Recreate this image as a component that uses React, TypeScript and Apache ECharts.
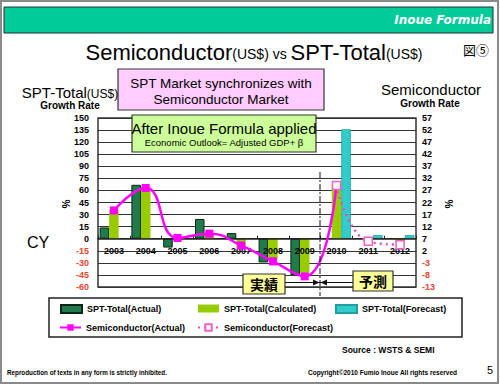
import React, { useEffect, useRef } from 'react';
import * as echarts from 'echarts';

const years = ['2003', '2004', '2005', '2006', '2007', '2008', '2009', '2010', '2011', '2012'];
const sptActual = [14, 67, -11, 24.5, 7, -29.5, -45, null, null, null];
const sptCalculated = [36, 65, -2, 7, -11, -26, -42.5, 67, -3, -6];
const sptForecast = [null, null, null, null, null, null, null, 136, 4.5, 4.5];
const semiActual = [18.7, 28, 7.3, 9.1, 4.2, -2.4, -8.6, 29, null, null];
const semiForecast = [null, null, null, null, null, null, null, 29, 5.9, 4.5];

const leftMin = -60;
const leftMax = 150;
const leftStep = 15;
const rightMin = -13;
const rightMax = 57;
const rightStep = 5;

const SANS = '"Liberation Sans", Arial, sans-serif';

const GRID_TOP = 118;
const GRID_H = 169;

export default function App() {
  const ref = useRef<HTMLDivElement>(null);
  useEffect(() => {
    if (!ref.current) return;
    const chart = echarts.init(ref.current, undefined, { renderer: 'svg' });
    const axisRich = {
      n: { color: '#000', fontWeight: 'bold', fontSize: 9, fontFamily: SANS },
      r: { color: '#e8452c', fontWeight: 'bold', fontSize: 9, fontFamily: SANS },
    };
    const lblFmt = (v: number) => (v < 0 ? `{r|${v}}` : `{n|${v}}`);
    const zeroOffset = -(GRID_H * (0 - leftMin)) / (leftMax - leftMin);
    const legendBase = {
      orient: 'horizontal',
      padding: 0,
      itemWidth: 21,
      itemHeight: 8,
      itemGap: 4,
      textStyle: { fontSize: 9, fontWeight: 'bold', color: '#000', fontFamily: SANS },
    };
    const option: any = {
      animation: false,
      backgroundColor: '#fff',
      grid: {
        left: 98,
        top: GRID_TOP,
        width: 318,
        height: GRID_H,
        show: true,
        borderColor: '#333',
        borderWidth: 1.5,
        backgroundColor: 'transparent',
      },
      legend: [
        { ...legendBase, left: 60, top: 304, data: [{ name: 'SPT-Total(Actual)', icon: 'rect' }] },
        { ...legendBase, left: 198, top: 304, data: [{ name: 'SPT-Total(Calculated)', icon: 'rect' }] },
        { ...legendBase, left: 335, top: 304, data: [{ name: 'SPT-Total(Forecast)', icon: 'rect' }] },
        { ...legendBase, left: 59, top: 323, data: ['Semiconductor(Actual)'] },
        { ...legendBase, left: 197, top: 323, data: ['Semiconductor(Forecast)'] },
      ],
      xAxis: {
        type: 'category',
        data: years,
        position: 'bottom',
        offset: zeroOffset,
        z: 3,
        axisLine: { onZero: false, lineStyle: { color: '#222', width: 1.5 } },
        axisTick: { show: true, inside: true, length: 3, lineStyle: { color: '#222' } },
        axisLabel: { margin: 8, fontSize: 9, fontWeight: 'bold', color: '#000', fontFamily: SANS, interval: 0 },
        splitLine: { show: false },
      },
      yAxis: [
        {
          type: 'value',
          min: leftMin,
          max: leftMax,
          interval: leftStep,
          axisLine: { show: false },
          axisTick: { show: false },
          axisLabel: { margin: 9, formatter: lblFmt, rich: axisRich },
          splitLine: { show: true, lineStyle: { color: '#333', width: 1 } },
        },
        {
          type: 'value',
          min: rightMin,
          max: rightMax,
          interval: rightStep,
          position: 'right',
          axisLine: { show: false },
          axisTick: { show: false },
          axisLabel: { margin: 6, formatter: lblFmt, rich: axisRich },
          splitLine: { show: false },
        },
      ],
      series: [
        {
          name: 'SPT-Total(Actual)',
          type: 'bar',
          data: sptActual,
          barGap: '0%',
          barCategoryGap: '10%',
          itemStyle: { color: '#217a4c', borderColor: '#0b2616', borderWidth: 1 },
          z: 2,
        },
        {
          name: 'SPT-Total(Calculated)',
          type: 'bar',
          data: sptCalculated,
          barGap: '0%',
          barCategoryGap: '10%',
          itemStyle: { color: '#99cc00' },
          z: 2,
        },
        {
          name: 'SPT-Total(Forecast)',
          type: 'bar',
          data: sptForecast,
          barGap: '0%',
          barCategoryGap: '10%',
          itemStyle: { color: '#33cccc', borderColor: '#1f9f9f', borderWidth: 0.8 },
          z: 2,
        },
        {
          name: 'Semiconductor(Actual)',
          type: 'line',
          yAxisIndex: 1,
          data: semiActual.map((v, i) => (i === 7 ? { value: v, symbol: 'none' } : v)),
          smooth: 0.5,
          smoothConstraint: false,
          symbol: 'rect',
          symbolSize: 8,
          lineStyle: { color: '#ff00ff', width: 2.5 },
          itemStyle: { color: '#ff00ff' },
          z: 4,
        },
        {
          name: 'Semiconductor(Forecast)',
          type: 'line',
          yAxisIndex: 1,
          data: semiForecast,
          smooth: 0.5,
          smoothConstraint: false,
          symbol: 'rect',
          symbolSize: 8,
          showAllSymbol: true,
          lineStyle: { color: '#e050c0', width: 2.5, type: [2, 4] },
          itemStyle: { color: '#fff', borderColor: '#f060c8', borderWidth: 1.5 },
          z: 5,
        },
      ],
      graphic: [
        { type: 'rect', shape: { x: 1, y: 1, width: 497, height: 382 }, style: { fill: 'none', stroke: '#8a8a8a', lineWidth: 2 }, z: 20 },
        { type: 'rect', shape: { x: 4, y: 7, width: 489, height: 26 }, style: { fill: '#00cc99', stroke: '#2a2a2a', lineWidth: 1 }, z: 10 },
        { type: 'text', x: 491, y: 20, style: { text: 'Inoue Formula', fill: '#fff', font: 'italic bold 12px "DejaVu Sans", sans-serif', align: 'right', verticalAlign: 'middle' }, z: 11 },
        {
          type: 'text', x: 254, y: 50, z: 11,
          style: {
            text: '{a|Semiconductor}{b|(US$)}{b| vs }{a|SPT-Total}{b|(US$)}',
            align: 'center', verticalAlign: 'middle',
            rich: {
              a: { fontSize: 22, fontFamily: SANS, fill: '#000', verticalAlign: 'bottom', lineHeight: 26 },
              b: { fontSize: 14, fontFamily: SANS, fill: '#000', verticalAlign: 'bottom', lineHeight: 26, padding: [0, 0, 2, 0] },
            },
          },
        },
        { type: 'text', x: 476, y: 49, style: { text: '図⑤', font: '13px "Noto Sans CJK JP", sans-serif', fill: '#000', align: 'center', verticalAlign: 'middle' }, z: 11 },
        {
          type: 'text', x: 70, y: 91, z: 11,
          style: {
            text: '{a|SPT-Total}{b|(US$)}', align: 'center', verticalAlign: 'middle',
            rich: {
              a: { fontSize: 15, fontFamily: SANS, fill: '#000', verticalAlign: 'bottom', lineHeight: 18 },
              b: { fontSize: 12, fontFamily: SANS, fill: '#000', verticalAlign: 'bottom', lineHeight: 18 },
            },
          },
        },
        { type: 'text', x: 70, y: 105, style: { text: 'Growth Rate', font: 'bold 10px "Liberation Sans", Arial', fill: '#000', align: 'center', verticalAlign: 'middle' }, z: 11 },
        { type: 'text', x: 431, y: 89, style: { text: 'Semiconductor', font: '15px "Liberation Sans", Arial', fill: '#000', align: 'center', verticalAlign: 'middle' }, z: 11 },
        { type: 'text', x: 430, y: 103, style: { text: 'Growth Rate', font: 'bold 10px "Liberation Sans", Arial', fill: '#000', align: 'center', verticalAlign: 'middle' }, z: 11 },
        { type: 'rect', shape: { x: 118, y: 69, width: 206, height: 41 }, style: { fill: '#ffccff', stroke: '#333', lineWidth: 1.2 }, z: 10 },
        { type: 'text', x: 221, y: 83, style: { text: 'SPT Market synchronizes with', font: '13.5px "Liberation Sans", Arial', fill: '#000', align: 'center', verticalAlign: 'middle' }, z: 11 },
        { type: 'text', x: 221, y: 99, style: { text: 'Semiconductor Market', font: '13.5px "Liberation Sans", Arial', fill: '#000', align: 'center', verticalAlign: 'middle' }, z: 11 },
        { type: 'rect', shape: { x: 132, y: 115, width: 184, height: 37 }, style: { fill: '#ccff99', stroke: '#333', lineWidth: 1.2 }, z: 10 },
        { type: 'text', x: 224, y: 128, style: { text: 'After Inoue Formula applied', font: '15px "Liberation Sans", Arial', fill: '#000', align: 'center', verticalAlign: 'middle' }, z: 11 },
        { type: 'text', x: 224, y: 142, style: { text: 'Economic Outlook= Adjusted GDP+ β', font: '9.5px "Liberation Sans", Arial', fill: '#000', align: 'center', verticalAlign: 'middle' }, z: 11 },
        { type: 'text', x: 38, y: 242, style: { text: 'CY', font: '16px "Liberation Sans", Arial', fill: '#000', align: 'center', verticalAlign: 'middle' }, z: 11 },
        { type: 'text', x: 65, y: 204, rotation: -Math.PI / 2, style: { text: '%', font: 'bold 10px "Liberation Sans", Arial', fill: '#000', align: 'center', verticalAlign: 'middle' }, z: 11 },
        { type: 'text', x: 448, y: 204, rotation: -Math.PI / 2, style: { text: '%', font: 'bold 10px "Liberation Sans", Arial', fill: '#000', align: 'center', verticalAlign: 'middle' }, z: 11 },
        { type: 'line', shape: { x1: 320, y1: 172, x2: 320, y2: 296 }, style: { stroke: '#111', lineWidth: 1, lineDash: [6, 2, 2, 2] }, z: 9 },
        { type: 'line', shape: { x1: 285, y1: 282.5, x2: 353, y2: 282.5 }, style: { stroke: '#111', lineWidth: 1 }, z: 9 },
        { type: 'polygon', shape: { points: [[313, 279.5], [319.5, 282.5], [313, 285.5]] }, style: { fill: '#111' }, z: 9 },
        { type: 'polygon', shape: { points: [[327, 279.5], [320.5, 282.5], [327, 285.5]] }, style: { fill: '#111' }, z: 9 },
        { type: 'rect', shape: { x: 243, y: 274, width: 42, height: 20 }, style: { fill: '#ffff99', stroke: '#333', lineWidth: 1.2 }, z: 10 },
        { type: 'text', x: 264, y: 284, style: { text: '実績', font: 'bold 14px "Noto Sans CJK JP", sans-serif', fill: '#000', align: 'center', verticalAlign: 'middle' }, z: 11 },
        { type: 'rect', shape: { x: 353, y: 271, width: 40, height: 20 }, style: { fill: '#ffff99', stroke: '#333', lineWidth: 1.2 }, z: 10 },
        { type: 'text', x: 373, y: 281, style: { text: '予測', font: 'bold 14px "Noto Sans CJK JP", sans-serif', fill: '#000', align: 'center', verticalAlign: 'middle' }, z: 11 },
        { type: 'rect', shape: { x: 49, y: 298, width: 413, height: 39 }, style: { fill: 'none', stroke: '#222', lineWidth: 1.5 }, z: 10 },
        { type: 'text', x: 342, y: 350, style: { text: 'Source : WSTS & SEMI', font: 'bold 8.5px "Liberation Sans", Arial', fill: '#000', align: 'left', verticalAlign: 'middle' }, z: 11 },
        { type: 'text', x: 7, y: 372, style: { text: 'Reproduction of texts in any form is strictly inhibited.', font: 'bold 6.3px "Liberation Sans", Arial', fill: '#000', align: 'left', verticalAlign: 'middle' }, z: 11 },
        { type: 'text', x: 457, y: 372, style: { text: 'Copyright©2010 Fumio Inoue All rights reserved', font: 'bold 6.5px "Liberation Sans", Arial', fill: '#000', align: 'right', verticalAlign: 'middle' }, z: 11 },
        { type: 'text', x: 490, y: 370, style: { text: '5', font: '11px "Liberation Sans", Arial', fill: '#000', align: 'center', verticalAlign: 'middle' }, z: 11 },
      ],
    };
    chart.setOption(option);
    return () => chart.dispose();
  }, []);
  return <div ref={ref} style={{ position: 'fixed', left: 0, top: 0, width: 500, height: 385 }} />;
}
